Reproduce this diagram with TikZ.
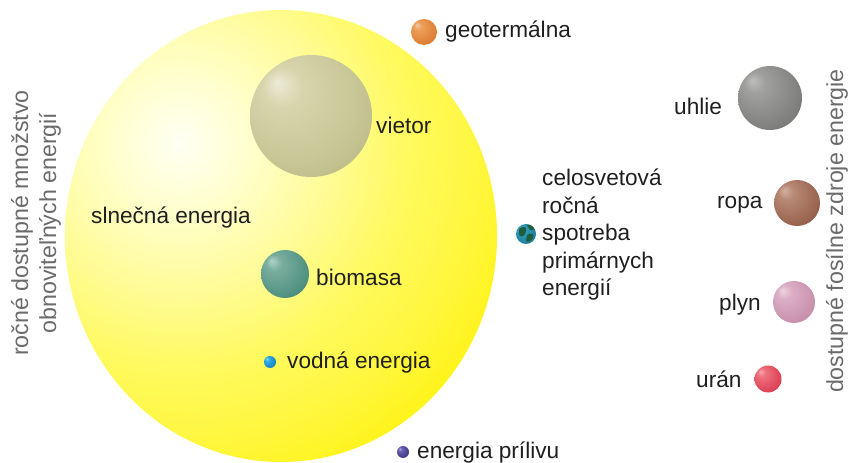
\documentclass[tikz,border=0pt]{standalone}
\usepackage{fontspec}
\usetikzlibrary{shapes.geometric}
\setmainfont{Liberation Sans}
\newcommand{\declball}[5]{%
  \definecolor{#1a}{HTML}{#2}\definecolor{#1b}{HTML}{#3}\definecolor{#1c}{HTML}{#4}\definecolor{#1d}{HTML}{#5}%
  \pgfdeclareradialshading{#1}{\pgfpoint{-14bp}{14bp}}{%
    color(0bp)=(#1a);color(8bp)=(#1b);color(30bp)=(#1c);color(50bp)=(#1d)}}
\declball{sKhaki}{ECEBD6}{D8D5AE}{C4C190}{A09C52}
\declball{sGreen}{B0D4C8}{7AAE9E}{4F9080}{226654}
\declball{sBlue}{A0DCF4}{2FB0E6}{1A80C0}{0C5C96}
\declball{sOrange}{F6CBA0}{EC9E5A}{DC7E34}{B85C18}
\declball{sPurple}{B4B0DC}{6A62AE}{3E3888}{1E1A5A}
\declball{sGray}{BEBEBC}{A0A09E}{7E7E7C}{464644}
\declball{sBrown}{D4B0A0}{B88A76}{98624E}{6C3A2A}
\declball{sPink}{ECD6E0}{DCB0C6}{C890AC}{A46888}
\declball{sRed}{F6A8AE}{EE707C}{DC4054}{B01C34}
\declball{sEarth}{7FC8D8}{2F9DB8}{1F7FA0}{0F5C80}
\definecolor{sunA}{HTML}{FFFFF4}\definecolor{sunB}{HTML}{FFFFD0}\definecolor{sunC}{HTML}{FFFB90}
\definecolor{sunD}{HTML}{FFFA60}\definecolor{sunE}{HTML}{FFF63C}\definecolor{sunF}{HTML}{FFF200}
\pgfdeclareradialshading{sSun}{\pgfpoint{0bp}{0bp}}{%
  color(0bp)=(sunA);color(4bp)=(sunB);color(10bp)=(sunC);color(14bp)=(sunD);color(19bp)=(sunE);color(25bp)=(sunF);color(50bp)=(sunF)}
\definecolor{landcol}{HTML}{1E5E3A}
\tikzset{
  ball/.style={circle,inner sep=0pt,draw=none,minimum size=#1},
  lab/.style={inner sep=0pt,text=black!88,font=\fontsize{22.7}{27}\selectfont,anchor=west},
  side/.style={inner sep=0pt,text=black!58,font=\fontsize{23.3}{28}\selectfont,rotate=90,align=center},
}
\begin{document}
\begin{tikzpicture}[x=1bp,y=-1bp]
\useasboundingbox (0,0) rectangle (851,463);
\begin{scope}
\clip (281,236) ellipse [x radius=216, y radius=226];
\shade[shading=sSun] (-220,-257) rectangle (580,543);
\end{scope}
\node[ball=122bp,shading=sKhaki] (wind) at (311,116) {};
\node[ball=48bp,shading=sGreen] (bio) at (285,274) {};
\node[ball=12bp,shading=sBlue] (water) at (270,362) {};
\node[ball=26bp,shading=sOrange] (geo) at (424,32) {};
\node[ball=12bp,shading=sPurple] (tide) at (403,452) {};
\node[ball=20bp,shading=sEarth] (earth) at (526,234) {};
\fill[landcol] (519,229) .. controls (523,225) and (527,227) .. (526,231) .. controls (525,236) and (522,238) .. (519,235) -- cycle;
\fill[landcol] (527,235) .. controls (531,232) and (535,234) .. (533,238) .. controls (531,241) and (528,243) .. (526,241) -- cycle;
\fill[landcol] (527,225) .. controls (530,224) and (533,226) .. (535,230) -- (530,230) -- cycle;
\node[ball=64bp,shading=sGray] (coal) at (770,98) {};
\node[ball=46bp,shading=sBrown] (oil) at (797,203) {};
\node[ball=42bp,shading=sPink] (gas) at (794,302) {};
\node[ball=27bp,shading=sRed] (uran) at (768,379) {};
\node[lab] (tgeo) at (445,32) {geotermálna};
\node[lab] (twind) at (376,125) {vietor};
\node[lab] (tsun) at (91,218) {slnečná energia};
\node[lab] (tbio) at (316,277) {biomasa};
\node[lab] (twater) at (287,363) {vodná energia};
\node[lab] (ttide) at (417,453) {energia prílivu};
\node[lab,align=left,font=\fontsize{22.7}{27.6}\selectfont] (tuse) at (542,235) {celosvetová\\ročná\\spotreba\\primárnych\\energií};
\node[lab] (tcoal) at (674,106) {uhlie};
\node[lab] (toil) at (717,205) {ropa};
\node[lab] (tgas) at (719,305) {plyn};
\node[lab] (turan) at (696,379) {urán};
\node[side] (tleft) at (36,223) {ročné dostupné množstvo\\obnoviteľných energií};
\node[side] (tright) at (837,231) {dostupné fosílne zdroje energie};
\end{tikzpicture}
\end{document}
